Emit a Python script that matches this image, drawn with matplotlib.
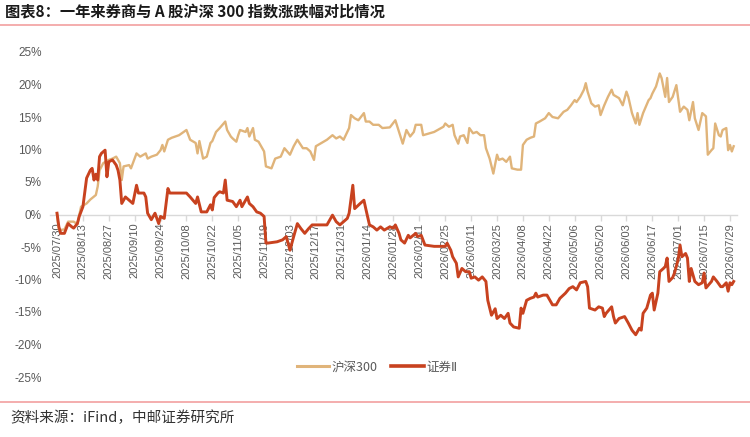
import matplotlib
matplotlib.use("Agg")
import matplotlib.pyplot as plt
import matplotlib.dates as mdates
from matplotlib.lines import Line2D
from matplotlib.ticker import FuncFormatter
import pandas as pd

plt.rcParams['font.family'] = ['Noto Sans CJK SC', 'DejaVu Sans']
plt.rcParams['axes.unicode_minus'] = False

title = "图表8：一年来券商与 A 股沪深 300 指数涨跌幅对比情况"
source = "资料来源：iFind，中邮证券研究所"
series_names = ["沪深300", "证券Ⅱ"]

hs300_dates = [
    "2025-07-30", "2025-07-31", "2025-08-03", "2025-08-05", "2025-08-08", "2025-08-10", "2025-08-12",
    "2025-08-15", "2025-08-17", "2025-08-20", "2025-08-21", "2025-08-22", "2025-08-24", "2025-08-27",
    "2025-08-29", "2025-08-31", "2025-09-02", "2025-09-03", "2025-09-04", "2025-09-07", "2025-09-08",
    "2025-09-11", "2025-09-13", "2025-09-16", "2025-09-17", "2025-09-19", "2025-09-22", "2025-09-24",
    "2025-09-25", "2025-09-26", "2025-09-28", "2025-09-30", "2025-10-04", "2025-10-08", "2025-10-10",
    "2025-10-13", "2025-10-14", "2025-10-15", "2025-10-17", "2025-10-19", "2025-10-21", "2025-10-22",
    "2025-10-24", "2025-10-26", "2025-10-29", "2025-10-30", "2025-11-01", "2025-11-02", "2025-11-04",
    "2025-11-05", "2025-11-06", "2025-11-09", "2025-11-10", "2025-11-11", "2025-11-13", "2025-11-14",
    "2025-11-16", "2025-11-18", "2025-11-19", "2025-11-20", "2025-11-23", "2025-11-25", "2025-11-28",
    "2025-11-30", "2025-12-03", "2025-12-05", "2025-12-07", "2025-12-10", "2025-12-12", "2025-12-14",
    "2025-12-16", "2025-12-17", "2025-12-20", "2025-12-23", "2025-12-26", "2025-12-28", "2025-12-30",
    "2026-01-01", "2026-01-04", "2026-01-05", "2026-01-07", "2026-01-09", "2026-01-12", "2026-01-13",
    "2026-01-15", "2026-01-17", "2026-01-20", "2026-01-22", "2026-01-26", "2026-01-29", "2026-01-31",
    "2026-02-02", "2026-02-04", "2026-02-06", "2026-02-08", "2026-02-09", "2026-02-12", "2026-02-13",
    "2026-02-19", "2026-02-24", "2026-02-25", "2026-02-27", "2026-03-01", "2026-03-02", "2026-03-04",
    "2026-03-05", "2026-03-07", "2026-03-09", "2026-03-10", "2026-03-12", "2026-03-14", "2026-03-16",
    "2026-03-18", "2026-03-19", "2026-03-21", "2026-03-23", "2026-03-25", "2026-03-26", "2026-03-28",
    "2026-03-30", "2026-04-01", "2026-04-02", "2026-04-05", "2026-04-07", "2026-04-08", "2026-04-10",
    "2026-04-12", "2026-04-14", "2026-04-15", "2026-04-17", "2026-04-20", "2026-04-22", "2026-04-24",
    "2026-04-27", "2026-04-30", "2026-05-02", "2026-05-04", "2026-05-06", "2026-05-07", "2026-05-09",
    "2026-05-11", "2026-05-12", "2026-05-13", "2026-05-15", "2026-05-17", "2026-05-19", "2026-05-20",
    "2026-05-22", "2026-05-24", "2026-05-26", "2026-05-27", "2026-05-30", "2026-06-01", "2026-06-03",
    "2026-06-04", "2026-06-06", "2026-06-08", "2026-06-09", "2026-06-10", "2026-06-12", "2026-06-15",
    "2026-06-16", "2026-06-17", "2026-06-19", "2026-06-21", "2026-06-22", "2026-06-24", "2026-06-25",
    "2026-06-26", "2026-06-28", "2026-06-30", "2026-07-02", "2026-07-04", "2026-07-06", "2026-07-07",
    "2026-07-09", "2026-07-10", "2026-07-12", "2026-07-14", "2026-07-16", "2026-07-17", "2026-07-19",
    "2026-07-20", "2026-07-21", "2026-07-23", "2026-07-24", "2026-07-25", "2026-07-27", "2026-07-28",
    "2026-07-29", "2026-07-30", "2026-07-31",
]
hs300_values = [
    0.0, -2.4, -2.3, -1.1, -1.1, -1.5, 1.2,
    1.7, 2.3, 3.0, 4.3, 6.8, 7.9, 8.4,
    8.6, 8.9, 7.9, 5.3, 7.4, 7.6, 7.1,
    9.4, 8.9, 9.4, 8.6, 8.9, 9.2, 9.9,
    10.7, 9.7, 11.5, 11.8, 12.2, 13.0, 11.5,
    11.0, 9.4, 11.3, 8.6, 8.9, 11.0, 11.3,
    12.7, 13.3, 14.3, 13.0, 12.0, 11.7, 11.2,
    12.2, 13.0, 12.7, 13.3, 12.0, 13.3, 11.5,
    11.2, 10.2, 9.7, 7.4, 7.1, 8.6, 8.9,
    10.2, 9.2, 10.5, 11.5, 10.2, 10.2, 9.7,
    8.4, 10.5, 11.0, 11.5, 12.2, 11.7, 12.0,
    11.5, 13.3, 15.3, 14.8, 14.5, 15.6, 14.3,
    14.3, 13.8, 13.8, 13.3, 13.4, 14.5, 12.7,
    10.9, 13.0, 12.0, 12.7, 13.8, 13.8, 12.2,
    12.7, 13.5, 14.0, 13.5, 13.8, 12.2, 10.9,
    12.0, 12.2, 11.0, 13.3, 12.5, 12.7, 12.2,
    12.2, 10.2, 8.6, 6.3, 9.2, 8.4, 8.6,
    8.1, 8.9, 7.1, 6.9, 6.9, 10.7, 11.5,
    11.8, 12.0, 14.0, 14.3, 14.8, 15.6, 15.0,
    14.8, 15.8, 16.1, 16.8, 17.6, 17.3, 18.1,
    19.2, 20.2, 18.9, 17.1, 16.6, 16.8, 15.3,
    16.8, 18.1, 19.2, 18.4, 17.9, 16.8, 18.9,
    18.1, 15.6, 14.0, 15.6, 13.8, 15.6, 17.6,
    17.9, 18.6, 19.7, 21.7, 21.0, 18.1, 21.0,
    17.3, 18.1, 19.9, 15.8, 16.6, 16.1, 14.5,
    17.3, 14.8, 13.0, 15.6, 15.1, 9.2, 9.9,
    10.2, 14.0, 12.2, 12.0, 13.0, 13.3, 9.9,
    10.7, 9.7, 10.5,
]

sec_dates = [
    "2025-07-30", "2025-07-31", "2025-08-01", "2025-08-03", "2025-08-05", "2025-08-07", "2025-08-08",
    "2025-08-10", "2025-08-11", "2025-08-13", "2025-08-15", "2025-08-17", "2025-08-18", "2025-08-19",
    "2025-08-20", "2025-08-21", "2025-08-22", "2025-08-23", "2025-08-25", "2025-08-26", "2025-08-27",
    "2025-08-29", "2025-08-31", "2025-09-01", "2025-09-02", "2025-09-03", "2025-09-05", "2025-09-07",
    "2025-09-09", "2025-09-11", "2025-09-12", "2025-09-15", "2025-09-16", "2025-09-17", "2025-09-19",
    "2025-09-21", "2025-09-23", "2025-09-24", "2025-09-26", "2025-09-28", "2025-09-29", "2025-10-08",
    "2025-10-10", "2025-10-13", "2025-10-14", "2025-10-16", "2025-10-19", "2025-10-21", "2025-10-22",
    "2025-10-23", "2025-10-25", "2025-10-26", "2025-10-28", "2025-10-29", "2025-10-30", "2025-11-02",
    "2025-11-04", "2025-11-06", "2025-11-07", "2025-11-10", "2025-11-11", "2025-11-13", "2025-11-15",
    "2025-11-17", "2025-11-19", "2025-11-20", "2025-11-21", "2025-11-26", "2025-11-29", "2025-12-01",
    "2025-12-03", "2025-12-05", "2025-12-07", "2025-12-09", "2025-12-11", "2025-12-13", "2025-12-15",
    "2025-12-20", "2025-12-23", "2025-12-26", "2025-12-28", "2025-12-30", "2026-01-03", "2026-01-04",
    "2026-01-06", "2026-01-07", "2026-01-10", "2026-01-12", "2026-01-13", "2026-01-15", "2026-01-17",
    "2026-01-19", "2026-01-21", "2026-01-23", "2026-01-26", "2026-01-28", "2026-01-29", "2026-01-31",
    "2026-02-01", "2026-02-03", "2026-02-05", "2026-02-06", "2026-02-09", "2026-02-10", "2026-02-12",
    "2026-02-14", "2026-02-19", "2026-02-25", "2026-02-26", "2026-02-28", "2026-03-01", "2026-03-03",
    "2026-03-04", "2026-03-06", "2026-03-08", "2026-03-10", "2026-03-11", "2026-03-13", "2026-03-15",
    "2026-03-17", "2026-03-19", "2026-03-20", "2026-03-22", "2026-03-24", "2026-03-25", "2026-03-27",
    "2026-03-29", "2026-03-31", "2026-04-01", "2026-04-03", "2026-04-06", "2026-04-07", "2026-04-08",
    "2026-04-10", "2026-04-12", "2026-04-14", "2026-04-15", "2026-04-16", "2026-04-19", "2026-04-21",
    "2026-04-22", "2026-04-24", "2026-04-26", "2026-04-28", "2026-05-01", "2026-05-03", "2026-05-05",
    "2026-05-07", "2026-05-09", "2026-05-12", "2026-05-13", "2026-05-14", "2026-05-17", "2026-05-19",
    "2026-05-21", "2026-05-22", "2026-05-23", "2026-05-26", "2026-05-27", "2026-05-28", "2026-05-30",
    "2026-06-02", "2026-06-04", "2026-06-06", "2026-06-08", "2026-06-10", "2026-06-11", "2026-06-12",
    "2026-06-14", "2026-06-16", "2026-06-17", "2026-06-18", "2026-06-20", "2026-06-21", "2026-06-23",
    "2026-06-24", "2026-06-25", "2026-06-26", "2026-06-28", "2026-06-29", "2026-07-01", "2026-07-02",
    "2026-07-03", "2026-07-05", "2026-07-06", "2026-07-07", "2026-07-08", "2026-07-10", "2026-07-12",
    "2026-07-14", "2026-07-15", "2026-07-16", "2026-07-19", "2026-07-20", "2026-07-22", "2026-07-24",
    "2026-07-25", "2026-07-27", "2026-07-28", "2026-07-29", "2026-07-30", "2026-07-31",
]
sec_values = [
    0.2, -1.9, -2.9, -2.9, -1.4, -1.9, -2.1,
    -1.4, -0.3, 1.2, 5.6, 6.8, 7.1, 5.3,
    6.2, 5.3, 8.9, 9.4, 9.9, 5.8, 8.1,
    8.4, 7.6, 6.8, 5.3, 1.7, 2.7, 2.2,
    1.7, 4.5, 3.3, 3.3, 2.7, 0.2, -0.8,
    0.2, -1.4, -0.3, -0.6, 4.0, 3.3, 3.3,
    2.7, 1.7, 2.7, 0.4, 0.4, 1.5, 0.7,
    2.6, 3.3, 3.5, 3.3, 5.3, 2.2, 2.0,
    1.2, 2.2, 1.2, 2.7, 1.7, 1.2, 0.4,
    0.2, -0.3, -4.4, -4.4, -4.2, -3.9, -3.4,
    -5.5, -3.4, -1.4, -2.2, -2.9, -2.2, -1.6,
    -1.6, -1.6, -0.1, -1.1, -1.6, -0.6, 0.2,
    4.5, 0.9, 1.7, 2.2, 0.9, -1.6, -1.9,
    -2.4, -1.9, -2.4, -1.9, -2.1, -1.6, -2.9,
    -3.9, -4.4, -3.2, -3.6, -2.9, -3.4, -3.2,
    -4.7, -4.9, -4.9, -4.4, -5.5, -6.5, -7.5,
    -9.6, -8.3, -8.8, -8.8, -9.8, -9.6, -10.1,
    -9.6, -10.3, -13.2, -15.5, -14.5, -16.0, -15.5,
    -16.0, -15.2, -16.7, -17.3, -17.5, -14.4, -15.2,
    -13.2, -12.9, -12.7, -12.1, -12.7, -12.4, -12.4,
    -12.9, -13.9, -13.9, -12.9, -12.1, -11.4, -11.1,
    -11.6, -10.5, -10.3, -11.1, -14.4, -14.7, -14.2,
    -14.4, -15.7, -15.2, -14.2, -15.7, -16.7, -16.0,
    -15.7, -16.7, -17.8, -18.5, -17.5, -17.8, -15.2,
    -14.4, -12.4, -12.1, -14.7, -12.1, -8.8, -8.3,
    -8.0, -6.7, -10.3, -9.7, -9.0, -6.9, -4.7,
    -6.5, -6.0, -6.7, -10.3, -8.3, -10.3, -10.8,
    -10.5, -9.0, -11.3, -10.3, -9.6, -10.3, -11.1,
    -11.1, -10.5, -11.8, -10.5, -10.8, -10.3,
]

y_ticks = [-25, -20, -15, -10, -5, 0, 5, 10, 15, 20, 25]
tick_first, tick_last, tick_step_days = "2025-07-30", "2026-07-29", 14

c_hs = "#E0B47A"
c_sec = "#C8421F"
c_text = "#595959"
c_axis = "#D9D9D9"
c_rule = "#F2A0A0"

fig = plt.figure(figsize=(7.5, 4.37), dpi=100)
ax = fig.add_axes([50 / 750, 60 / 437, 687 / 750, 325 / 437])

hs_x = pd.to_datetime(hs300_dates)
sec_x = pd.to_datetime(sec_dates)
ax.plot(hs_x, hs300_values, color=c_hs, lw=1.7, solid_joinstyle="round", zorder=3)
ax.plot(sec_x, sec_values, color=c_sec, lw=2.1, solid_joinstyle="round", zorder=4)

ticks = pd.date_range(tick_first, tick_last, freq=f"{tick_step_days}D")
ax.set_xticks(ticks)
ax.xaxis.set_major_formatter(mdates.DateFormatter("%Y/%m/%d"))
ax.set_xlim(pd.Timestamp(tick_first) - pd.Timedelta(days=3.8),
            pd.Timestamp(tick_first) + pd.Timedelta(days=367.8))
ax.set_ylim(min(y_ticks), max(y_ticks))
ax.set_yticks(y_ticks)
ax.yaxis.set_major_formatter(FuncFormatter(lambda v, p: f"{v:.0f}%"))

for s in ["top", "right", "left"]:
    ax.spines[s].set_visible(False)
ax.spines["bottom"].set_position(("data", 0))
ax.spines["bottom"].set_color(c_axis)
ax.spines["bottom"].set_linewidth(1.0)
ax.spines["bottom"].set_zorder(2)

ax.tick_params(axis="x", direction="out", length=4, width=1, color=c_axis,
               labelcolor=c_text, labelsize=8, pad=2, labelrotation=90)
ax.tick_params(axis="y", length=0, labelcolor=c_text, labelsize=8.5, pad=6)
for lab in ax.get_xticklabels() + ax.get_yticklabels():
    lab.set_fontfamily(["Liberation Sans", "DejaVu Sans"])
ax.patch.set_alpha(0)

handles = [Line2D([], [], color=c_hs, lw=2.2), Line2D([], [], color=c_sec, lw=2.6)]
leg = fig.legend(handles, series_names, loc="center", ncol=2, frameon=False,
                 bbox_to_anchor=(377 / 750, 1 - 367 / 437), fontsize=9,
                 handlelength=2.6, handletextpad=0.2, columnspacing=1.1)
for t in leg.get_texts():
    t.set_color(c_text)
leg.get_texts()[1].set_fontfamily(["DejaVu Sans", "Noto Sans CJK SC"])

fig.text(5 / 750, 1 - 12 / 437, title, fontsize=11, fontweight="bold",
         color="#1a1a1a", va="center", ha="left")
fig.add_artist(Line2D([0, 1], [1 - 24.5 / 437] * 2, color=c_rule, lw=1.2,
                      transform=fig.transFigure))
fig.add_artist(Line2D([0, 1], [1 - 401.5 / 437] * 2, color=c_rule, lw=1.2,
                      transform=fig.transFigure))
fig.text(10 / 750, 1 - 418 / 437, source, fontsize=10.5, color="#333333",
         va="center", ha="left")

fig.savefig("out.png", dpi=100)
